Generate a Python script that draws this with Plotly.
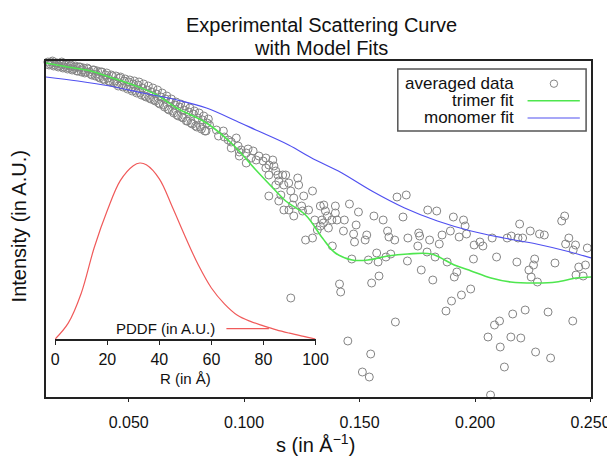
import plotly.graph_objects as go

# averaged scattering data: s (1/A) and intensity (arbitrary, log-like units)
s_low = [0.015, 0.016, 0.017, 0.018, 0.019, 0.020, 0.021, 0.022, 0.023, 0.024,
         0.025, 0.026, 0.027, 0.028, 0.029, 0.030, 0.031, 0.032, 0.033, 0.034,
         0.035, 0.036, 0.037, 0.038, 0.039, 0.040, 0.041, 0.042, 0.043, 0.044,
         0.045, 0.046, 0.047, 0.048, 0.049, 0.050, 0.051, 0.052, 0.053, 0.054,
         0.055, 0.056, 0.057, 0.058, 0.059, 0.060, 0.061, 0.062, 0.063, 0.064,
         0.065, 0.066, 0.067, 0.068, 0.069, 0.070, 0.071, 0.072, 0.073, 0.074,
         0.075, 0.076, 0.077, 0.078, 0.079, 0.080, 0.081, 0.082, 0.083, 0.084]
i_low = [3.35, 3.33, 3.36, 3.32, 3.34, 3.31, 3.35, 3.30, 3.33, 3.29,
         3.32, 3.28, 3.31, 3.26, 3.30, 3.27, 3.24, 3.29, 3.25, 3.22,
         3.27, 3.23, 3.20, 3.25, 3.18, 3.22, 3.19, 3.15, 3.21, 3.16,
         3.13, 3.19, 3.12, 3.16, 3.10, 3.15, 3.08, 3.13, 3.06, 3.12,
         3.04, 3.09, 3.01, 3.07, 2.99, 3.05, 2.97, 3.03, 2.94, 3.00,
         2.92, 2.98, 2.88, 2.95, 2.86, 2.92, 2.82, 2.90, 2.80, 2.87,
         2.76, 2.85, 2.74, 2.83, 2.71, 2.79, 2.70, 2.77, 2.66, 2.74]

s_low2 = [0.0155, 0.0165, 0.0175, 0.0185, 0.0195, 0.0205, 0.0215, 0.0225, 0.0235, 0.0245,
          0.0255, 0.0265, 0.0275, 0.0285, 0.0295, 0.0305, 0.0315, 0.0325, 0.0335, 0.0345,
          0.0355, 0.0365, 0.0375, 0.0385, 0.0395, 0.0405, 0.0415, 0.0425, 0.0435, 0.0445,
          0.0455, 0.0465, 0.0475, 0.0485, 0.0495, 0.0505, 0.0515, 0.0525, 0.0535, 0.0545,
          0.0555, 0.0565, 0.0575, 0.0585, 0.0595, 0.0605, 0.0615, 0.0625, 0.0635, 0.0645,
          0.0655, 0.0665, 0.0675, 0.0685, 0.0695, 0.0705, 0.0715, 0.0725, 0.0735, 0.0745,
          0.0755, 0.0765, 0.0775, 0.0785, 0.0795, 0.0805, 0.0815, 0.0825, 0.0835, 0.0845]
i_low2 = [3.32, 3.35, 3.31, 3.34, 3.30, 3.33, 3.29, 3.32, 3.28, 3.31,
          3.27, 3.30, 3.26, 3.30, 3.25, 3.29, 3.25, 3.28, 3.23, 3.27,
          3.21, 3.26, 3.19, 3.25, 3.17, 3.24, 3.16, 3.22, 3.14, 3.21,
          3.11, 3.20, 3.10, 3.18, 3.08, 3.17, 3.06, 3.16, 3.04, 3.15,
          3.02, 3.13, 3.00, 3.11, 2.98, 3.09, 2.96, 3.07, 2.93, 3.04,
          2.90, 3.01, 2.87, 2.98, 2.84, 2.95, 2.81, 2.93, 2.79, 2.91,
          2.76, 2.89, 2.73, 2.86, 2.70, 2.84, 2.68, 2.81, 2.66, 2.78]

s_high = [0.0850, 0.0880, 0.0889, 0.0910, 0.0914, 0.0931, 0.0944, 0.0944, 0.0966, 0.0974,
          0.0979, 0.0987, 0.0979, 0.1009, 0.1009, 0.1017, 0.1030, 0.1039, 0.1052, 0.1064,
          0.1082, 0.1094, 0.1094, 0.1107, 0.1107, 0.1124, 0.1129, 0.1137, 0.1146, 0.1150,
          0.1167, 0.1172, 0.1180, 0.1193, 0.1202, 0.1210, 0.1215, 0.1215, 0.1232, 0.1236,
          0.1107, 0.1150, 0.1172, 0.1159, 0.1202, 0.1137, 0.1194, 0.1249, 0.1258, 0.1296,
          0.1279, 0.1253, 0.1330, 0.1345, 0.1352, 0.1360, 0.1343, 0.1365, 0.1330, 0.1317,
          0.1266, 0.1296, 0.1382, 0.1306, 0.1337, 0.1380, 0.1395, 0.1395, 0.1402, 0.1434,
          0.1456, 0.1495, 0.1485, 0.1430, 0.1474, 0.1478, 0.1524, 0.1531, 0.1562, 0.1602,
          0.1662, 0.1702, 0.1621, 0.1627, 0.1652, 0.1688, 0.1709, 0.1756, 0.1752, 0.1466,
          0.1538, 0.1574, 0.1580, 0.1614, 0.1635, 0.1707, 0.1767, 0.1552, 0.1584, 0.1413,
          0.1418, 0.1655, 0.1449, 0.1548, 0.1512, 0.1542,
          0.1795, 0.1834, 0.1906, 0.1950, 0.1957, 0.2193, 0.2239, 0.2279, 0.2300, 0.2388,
          0.2375, 0.2406, 0.2392, 0.2435, 0.2425, 0.2486, 0.1760, 0.1803, 0.1792, 0.1845,
          0.1857, 0.1893, 0.1931, 0.1963, 0.1996, 0.2021, 0.2034, 0.2074, 0.2139, 0.2157,
          0.2186, 0.2206, 0.1827, 0.1879, 0.1993, 0.2093, 0.2181, 0.2258, 0.2253, 0.2233,
          0.2243, 0.2270, 0.2346, 0.2449, 0.2478, 0.2437, 0.2468, 0.1817, 0.1921, 0.1910,
          0.1981, 0.1941, 0.1898, 0.1874, 0.2084, 0.2106, 0.2163, 0.2217, 0.2316, 0.2423,
          0.2056, 0.2109, 0.2155, 0.2198, 0.2262, 0.2327, 0.2127, 0.2067]
i_high = [2.72, 2.67, 2.61, 2.66, 2.60, 2.57, 2.55, 2.49, 2.59, 2.51,
          2.45, 2.47, 2.41, 2.44, 2.34, 2.48, 2.39, 2.46, 2.37, 2.41,
          2.36, 2.39, 2.29, 2.32, 2.22, 2.37, 2.31, 2.26, 2.22, 2.16,
          2.22, 2.12, 2.22, 2.14, 2.06, 1.92, 1.99, 1.81, 2.19, 2.12,
          2.01, 1.96, 1.87, 2.02, 0.99, 2.12, 1.87, 1.91, 2.01, 2.06,
          1.87, 1.86, 1.91, 1.92, 1.86, 1.81, 1.74, 1.69, 1.71, 1.67,
          1.57, 1.59, 1.51, 1.77, 1.77, 1.77, 1.91, 1.84, 1.77, 1.77,
          1.93, 1.85, 1.72, 1.66, 1.63, 1.55, 1.57, 1.62, 1.81, 1.77,
          2.00, 2.02, 1.66, 1.60, 1.57, 1.80, 1.59, 1.64, 1.51, 1.38,
          1.37, 1.44, 1.35, 1.40, 1.43, 1.36, 1.27, 1.14, 1.21, 1.13,
          1.05, 0.75, 0.56, 0.43, 0.25, 0.20,
          1.87, 1.86, 1.80, 1.77, 1.71, 1.73, 1.66, 1.63, 1.62, 1.81,
          1.76, 1.59, 1.53, 1.52, 1.47, 1.49, 1.61, 1.57, 1.45, 1.53,
          1.62, 1.66, 1.60, 1.63, 1.52, 1.55, 1.51, 1.59, 1.59, 1.61,
          1.59, 1.59, 1.40, 1.35, 1.38, 1.40, 1.35, 1.38, 1.32, 1.27,
          1.20, 1.15, 1.34, 1.30, 1.32, 1.22, 1.21, 1.17, 1.25, 1.20,
          1.08, 1.02, 0.96, 0.86, 0.72, 0.76, 0.83, 0.87, 0.85, 0.76,
          0.60, 0.50, 0.60, 0.59, 0.45, 0.39, 0.30, 0.02]

# trimer model fit
s_trimer = [0.0142, 0.0236, 0.0335, 0.0429, 0.0532, 0.0622, 0.0708, 0.0837, 0.0953, 0.1051,
            0.1137, 0.1180, 0.1266, 0.1339, 0.1395, 0.1468, 0.1536, 0.1622, 0.1708, 0.1811,
            0.1910, 0.1983, 0.2069, 0.2154, 0.2266, 0.2352, 0.2437, 0.2502]
i_trimer = [3.34, 3.30, 3.26, 3.19, 3.11, 3.02, 2.89, 2.74, 2.52, 2.27,
            2.06, 1.96, 1.82, 1.59, 1.44, 1.37, 1.37, 1.41, 1.43, 1.43,
            1.32, 1.26, 1.19, 1.15, 1.14, 1.15, 1.19, 1.20]

# monomer model fit
s_monomer = [0.0142, 0.0280, 0.0419, 0.0562, 0.0710, 0.0837, 0.0966, 0.1051, 0.1193, 0.1300,
             0.1408, 0.1553, 0.1695, 0.1837, 0.1983, 0.2124, 0.2266, 0.2412, 0.2502]
i_monomer = [3.20, 3.16, 3.11, 3.04, 2.97, 2.89, 2.76, 2.67, 2.52, 2.38,
             2.26, 2.06, 1.89, 1.76, 1.66, 1.59, 1.53, 1.45, 1.39]

# pair distance distribution function (inset)
r_pddf = [0, 5, 10, 15, 20, 25, 30, 32.5, 35, 40, 45, 50, 55, 60, 65, 70, 75, 80, 85, 90, 95, 100]
p_pddf = [0, 0.09, 0.26, 0.52, 0.73, 0.90, 0.985, 1.0, 0.99, 0.91, 0.75, 0.58, 0.42, 0.29,
          0.20, 0.135, 0.10, 0.075, 0.052, 0.033, 0.016, 0.0]

FONT = "Liberation Sans, Arial, Helvetica, sans-serif"
GRAY = "#858585"
GREEN = "#4ee64e"
BLUE = "#5050f0"
RED = "#f05a5a"

fig = go.Figure()
fig.add_trace(go.Scatter(x=s_low + s_low2 + s_high, y=i_low + i_low2 + i_high, mode="markers",
                         marker=dict(symbol="circle-open", size=8, color=GRAY,
                                     line=dict(width=1, color=GRAY)),
                         cliponaxis=False, name="averaged data"))
fig.add_trace(go.Scatter(x=s_trimer, y=i_trimer, mode="lines", line_shape="spline",
                         line=dict(color=GREEN, width=1.6), name="trimer fit"))
fig.add_trace(go.Scatter(x=s_monomer, y=i_monomer, mode="lines", line_shape="spline",
                         line=dict(color=BLUE, width=1.2), name="monomer fit"))
fig.add_trace(go.Scatter(x=r_pddf, y=p_pddf, mode="lines", line_shape="spline",
                         line=dict(color=RED, width=1.2), xaxis="x2", yaxis="y2",
                         name="PDDF (in A.U.)"))

fig.update_layout(
    width=615, height=459,
    margin=dict(l=38, r=27, t=53, b=70),
    plot_bgcolor="rgba(0,0,0,0)", paper_bgcolor="white",
    showlegend=False,
    font=dict(family=FONT, color="#111"),
    xaxis=dict(range=[0.0142, 0.2502], tickvals=[0.05, 0.10, 0.15, 0.20, 0.25],
               ticktext=["0.050", "0.100", "0.150", "0.200", "0.250"],
               showline=True, mirror=True, linecolor="#222", linewidth=2,
               ticks="outside", ticklen=3, tickcolor="#222", showgrid=False,
               zeroline=False, tickfont=dict(size=16), ticklabelstandoff=7),
    yaxis=dict(range=[0, 3.36], showticklabels=False, showline=True, mirror=True,
               linecolor="#222", linewidth=2, ticks="", showgrid=False, zeroline=False),
    xaxis2=dict(domain=[0.0169, 0.4945], anchor="y2", range=[0, 100], dtick=20,
                showline=True, linecolor="#222", linewidth=2, ticks="outside",
                ticklen=4, tickcolor="#222", showgrid=False, zeroline=False,
                tickfont=dict(size=16), ticklabelstandoff=1),
    yaxis2=dict(domain=[0.1726, 0.7226], anchor="x2", range=[0, 1.05], visible=False),
)

ann = [
    dict(text="Experimental Scattering Curve", x=0.505, y=1.107, font=dict(size=20)),
    dict(text="with Model Fits", x=0.505, y=1.039, font=dict(size=20)),
    dict(text="Intensity (in A.U.)", textangle=-90, x=-0.05, y=0.507, font=dict(size=20)),
    dict(text="s (in Å<sup>−1</sup>)", x=0.495, y=-0.137, font=dict(size=20)),
    dict(text="R (in Å)", x=0.2558, y=0.0536, font=dict(size=15)),
    dict(text="PDDF (in A.U.)", x=0.313, y=0.2032, xanchor="right", font=dict(size=15)),
    dict(text="averaged data", x=0.863, y=0.9325, xanchor="right", font=dict(size=17)),
    dict(text="trimer fit", x=0.863, y=0.8818, xanchor="right", font=dict(size=17)),
    dict(text="monomer fit", x=0.863, y=0.8304, xanchor="right", font=dict(size=17)),
]
for a in ann:
    a.setdefault("xanchor", "center")
    fig.add_annotation(xref="paper", yref="paper", showarrow=False, yanchor="middle", **a)

# legend box and samples
fig.add_shape(type="rect", xref="paper", yref="paper", x0=0.6455, x1=0.991,
              y0=0.7917, y1=0.976, line=dict(color="#555", width=1.5))
fig.add_shape(type="circle", xref="paper", yref="paper", x0=0.932 - 0.0068, x1=0.932 + 0.0068,
              y0=0.9325 - 0.011, y1=0.9325 + 0.011, line=dict(color=GRAY, width=1))
fig.add_shape(type="line", xref="paper", yref="paper", x0=0.8836, x1=0.9795,
              y0=0.8818, y1=0.8818, line=dict(color=GREEN, width=1.6))
fig.add_shape(type="line", xref="paper", yref="paper", x0=0.8836, x1=0.9795,
              y0=0.8304, y1=0.8304, line=dict(color=BLUE, width=1.2))
fig.add_shape(type="line", xref="paper", yref="paper", x0=0.331, x1=0.409,
              y0=0.2032, y1=0.2032, line=dict(color=RED, width=1.2))

fig.write_html("out.html")
